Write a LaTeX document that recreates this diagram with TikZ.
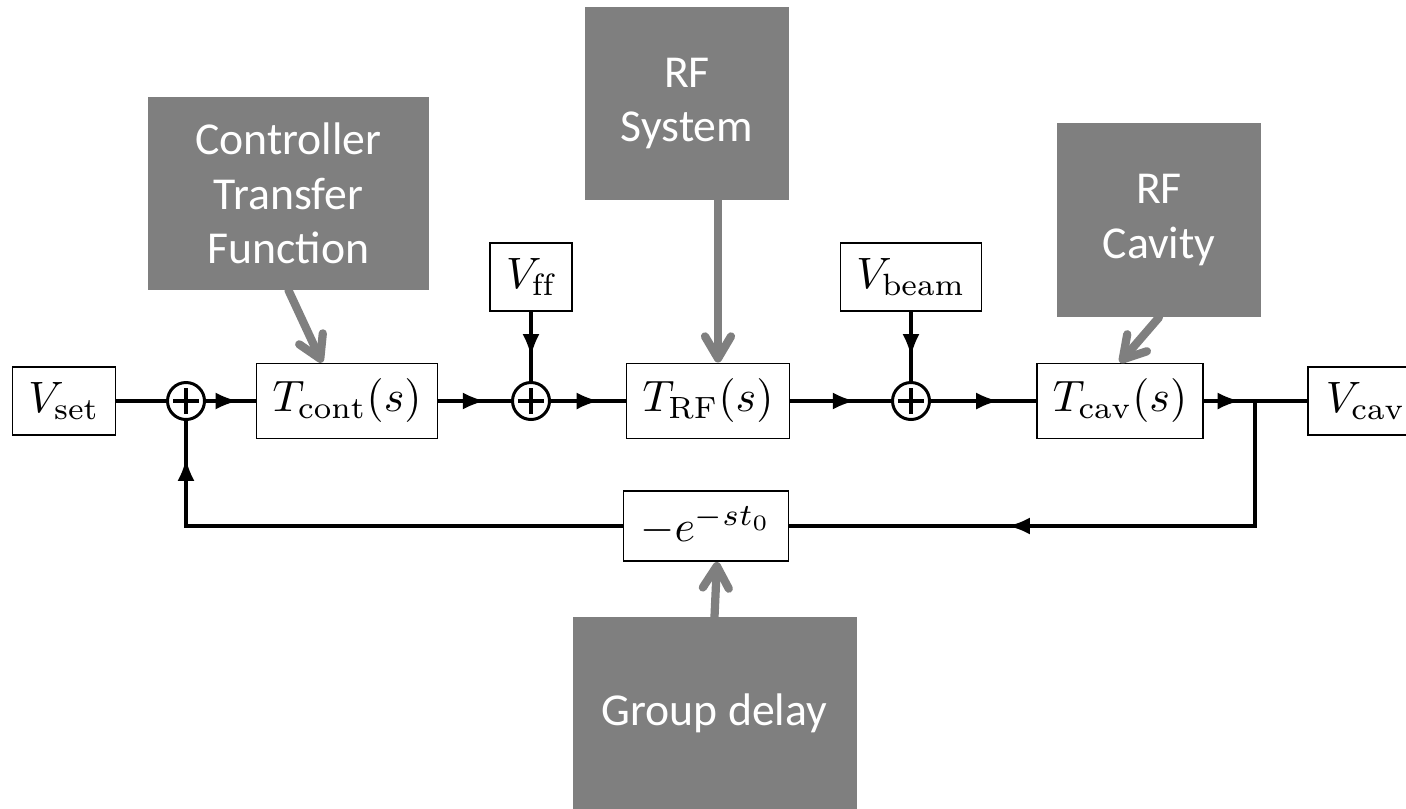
\documentclass[tikz,border=0pt]{standalone}
\usepackage{fontspec}
\usepackage{amsmath}
\usepackage{graphicx}
\usetikzlibrary{arrows.meta,decorations.markings}
\newfontfamily\notefont{Carlito}
\definecolor{notegray}{RGB}{127,127,127}
% block labels are set at normal size and blown up
\newcommand{\blk}[1]{\scalebox{2.5}{$#1$}}

\begin{document}
\begin{tikzpicture}[
  block/.style={draw, line width=1.1pt, inner sep=0pt, minimum height=1.5cm},
  sig/.style={block, minimum height=1.36cm},
  sum/.style={draw, circle, line width=1.7pt, minimum size=0.74cm, inner sep=0pt,
    path picture={\draw[line width=1.8pt]
      ([xshift=-0.26cm]path picture bounding box.center) -- ([xshift=0.26cm]path picture bounding box.center)
      ([yshift=-0.26cm]path picture bounding box.center) -- ([yshift=0.26cm]path picture bounding box.center);}},
  note/.style={fill=notegray, text=white, align=center, inner sep=0pt,
    font=\notefont\fontsize{26}{31}\selectfont},
  pointer/.style={draw=notegray, line width=4.7pt, line cap=round,
    -{Straight Barb[length=0.44cm,width=0.52cm,round]}},
  wire/.style={line width=1.8pt},
  flow/.style={wire, postaction={decorate}, decoration={markings,
    mark=at position #1 with {\arrow{Latex[length=0.44cm,width=0.34cm]}}}},
  flow/.default=0.64
]
  \useasboundingbox (0,0) rectangle (28.12,-16.16);

  % loop blocks
  \node[sig, minimum width=2.06cm]   (vset)  at ( 1.28, -8.02) {\blk{V_{\mathrm{set}}}};
  \node[sum]                         (sum1)  at ( 3.72, -8.02) {};
  \node[block, minimum width=3.62cm] (tcont) at ( 6.94, -8.02) {\blk{T_{\mathrm{cont}}(s)}};
  \node[sum]                         (sum2)  at (10.62, -8.02) {};
  \node[sig, minimum width=1.64cm]   (vff)   at (10.62, -5.54) {\blk{V_{\mathrm{ff}}}};
  \node[block, minimum width=3.26cm] (trf)   at (14.16, -8.02) {\blk{T_{\mathrm{RF}}(s)}};
  \node[sum]                         (sum3)  at (18.22, -8.02) {};
  \node[sig, minimum width=2.82cm]   (vbeam) at (18.22, -5.54) {\blk{V_{\mathrm{beam}}}};
  \node[block, minimum width=3.32cm] (tcav)  at (22.40, -8.02) {\blk{T_{\mathrm{cav}}(s)}};
  \node[sig, minimum width=2.3cm, anchor=west] (vcav) at (26.14, -8.02) {\blk{V_{\mathrm{cav}}}};
  \node[block, minimum width=3.3cm, minimum height=1.4cm] (delay) at (14.12, -10.52) {\blk{-e^{-st_0}}};
  \coordinate (split) at (25.10, -8.02);

  % grey notes
  \node[note, minimum width=5.62cm, minimum height=3.86cm] (ctrl)   at ( 5.77,  -3.87) {Controller\\Transfer\\Function};
  \node[note, minimum width=4.08cm, minimum height=3.86cm] (rfsys)  at (13.74,  -2.07) {RF\\System};
  \node[note, minimum width=4.08cm, minimum height=3.88cm] (cavity) at (23.18,  -4.40) {RF\\Cavity};
  \node[note, minimum width=5.68cm, minimum height=3.86cm] (gdelay) at (14.29, -14.27) {Group delay};

  % signal path
  \draw[wire]     (vset)  -- (sum1);
  \draw[flow]     (sum1)  -- (tcont);
  \draw[flow]     (tcont) -- (sum2);
  \draw[flow]     (vff)   -- (sum2);
  \draw[flow]     (sum2)  -- (trf);
  \draw[flow]     (trf)   -- (sum3);
  \draw[flow]     (vbeam) -- (sum3);
  \draw[flow]     (sum3)  -- (tcav);
  \draw[flow=0.7] (tcav) -- (split);
  \draw[wire]     (split) -- (vcav);
  \draw[flow=0.63] (split) |- (delay);
  \draw[flow=0.93] (delay) -| (sum1);

  % pointers from the notes
  \path ([xshift=0.2cm]trf.north) coordinate (rftip);
  \draw[pointer] (ctrl.south)    -- ([xshift=-0.5cm]tcont.north);
  \draw[pointer] (rftip |- rfsys.south) -- (rftip);
  \draw[pointer] (cavity.south)  -- (tcav.north);
  \draw[pointer] (gdelay.north)  -- ([xshift=0.22cm]delay.south);
\end{tikzpicture}
\end{document}
